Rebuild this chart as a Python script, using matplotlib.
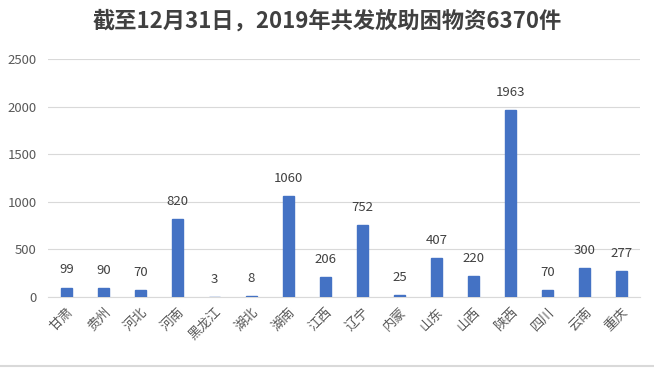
import matplotlib
matplotlib.use("Agg")
from matplotlib import pyplot as plt
from matplotlib.lines import Line2D

plt.rcParams['font.family'] = ['Noto Sans CJK SC', 'DejaVu Sans']

provinces = ["甘肃", "贵州", "河北", "河南", "黑龙江", "湖北", "湖南", "江西",
             "辽宁", "内蒙", "山东", "山西", "陕西", "四川", "云南", "重庆"]
counts = [99, 90, 70, 820, 3, 8, 1060, 206, 752, 25, 407, 220, 1963, 70, 300, 277]
y_ticks = [0, 500, 1000, 1500, 2000, 2500]

fig = plt.figure(figsize=(6.54, 3.68), dpi=100)
ax = fig.add_axes([48 / 654, 1 - 297 / 368, 592 / 654, 238 / 368])

x = range(len(provinces))
ax.bar(x, counts, width=0.3, color="#4472C4", edgecolor="#4472C4",
       linewidth=1.0, zorder=3)
for xi, v in zip(x, counts):
    ax.annotate(str(v), (xi, v), xytext=(0, 8), textcoords="offset points",
                ha="center", va="bottom", fontsize=9.5, color="#404040")

ax.set_xlim(-0.5, len(provinces) - 0.5)
ax.set_ylim(0, 2500)
ax.set_yticks(y_ticks)
ax.yaxis.grid(True, color="#d9d9d9", linewidth=0.8, zorder=0)
ax.tick_params(axis="y", length=0, labelsize=9.5, labelcolor="#595959", pad=8)
ax.tick_params(axis="x", length=0, labelsize=9.5, labelcolor="#595959", pad=6)
ax.set_xticks(list(x))
ax.set_xticklabels(provinces, rotation=45, ha="right", rotation_mode="anchor")
for side in ["top", "right", "left"]:
    ax.spines[side].set_visible(False)
ax.spines["bottom"].set_color("#d9d9d9")
ax.spines["bottom"].set_zorder(1)

fig.text(0.5, 1 - 21 / 368, "截至12月31日，2019年共发放助困物资6370件",
         ha="center", va="center", fontsize=16, fontweight="bold", color="#404040")
fig.add_artist(Line2D([0, 1], [2 / 368, 2 / 368], color="#d9d9d9", linewidth=1.5))

fig.savefig("out.png", dpi=100)
